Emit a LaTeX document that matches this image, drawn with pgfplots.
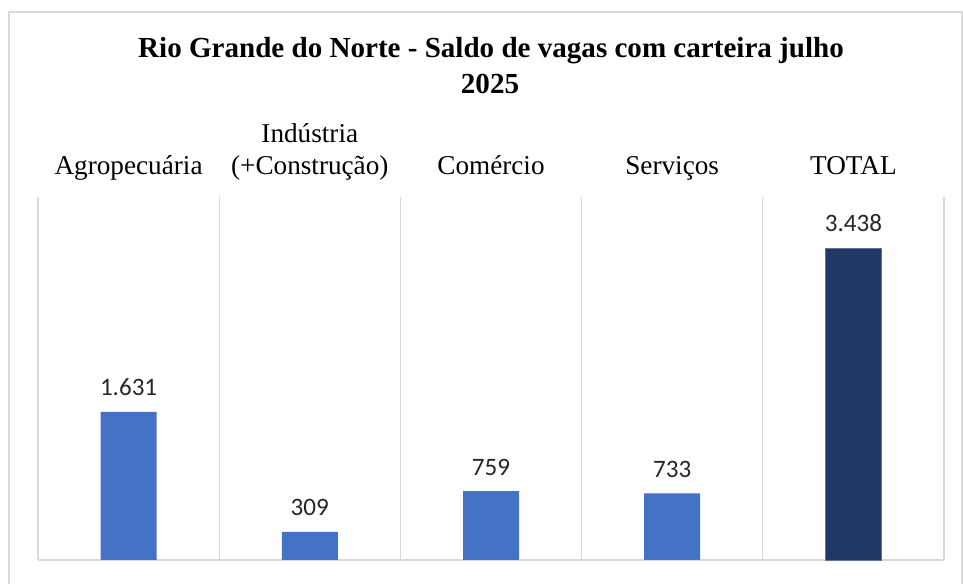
\documentclass[border=0pt]{standalone}
\usepackage{pgfplots}
\pgfplotsset{compat=1.18}
\usepackage{fontspec}
\setmainfont{Liberation Serif}
\newfontfamily\calibri{Carlito}
\definecolor{barblue}{HTML}{4472C4}
\definecolor{barnavy}{HTML}{203864}
\definecolor{gridgray}{HTML}{D9D9D9}
\begin{document}
\begin{tikzpicture}
% page frame: 963 x 584 px at 0.75pt per px
\path[use as bounding box] (0pt,0pt) rectangle (722.25pt,438pt);
\draw[gridgray, line width=0.9pt] (6.75pt,-5pt) -- (6.75pt,429pt) -- (721.5pt,429pt) -- (721.5pt,-5pt);
\node[anchor=base, font=\fontsize{21.8}{26}\selectfont\bfseries] at (368.25pt,394.5pt)
  {Rio Grande do Norte - Saldo de vagas com carteira julho};
\node[anchor=base, font=\fontsize{21.8}{26}\selectfont\bfseries] at (367.5pt,368pt) {2025};
\begin{axis}[
    at={(28.5pt,18pt)}, anchor=south west,
    scale only axis, width=679.5pt, height=272.25pt,
    ybar, bar width=42pt, bar shift=0pt,
    xmin=-0.5, xmax=4.5, ymin=0, ymax=4000,
    axis x line*=bottom, axis y line=none,
    x axis line style={gridgray, line width=0.9pt, -},
    xtick={-0.5,0.5,1.5,2.5,3.5,4.5}, xticklabels={},
    major tick length=0pt,
    xmajorgrids, grid style={gridgray, line width=0.9pt},
    ytick=\empty,
    nodes near coords,
    every node near coord/.append style={anchor=base, yshift=12pt,
      font=\calibri\fontsize{18.8}{22}\selectfont, text=black!85},
    /pgf/number format/.cd, 1000 sep={.}, assume math mode=true,
    /pgfplots/.cd,
    clip=false,
]
\addplot[fill=barblue, draw=none] coordinates {(0,1631) (1,309) (2,759) (3,733)};
\addplot[fill=barnavy, draw=barnavy!70!white] coordinates {(4,3438)};
\begin{scope}[every node/.style={anchor=base, font=\fontsize{20.4}{24}\selectfont}]
\node at (axis cs:0,4000) [yshift=16.5pt] {Agropecuária};
\node at (axis cs:1,4000) [yshift=40.5pt] {Indústria};
\node at (axis cs:1,4000) [yshift=16.5pt] {(+Construção)};
\node at (axis cs:2,4000) [yshift=16.5pt] {Comércio};
\node at (axis cs:3,4000) [yshift=16.5pt] {Serviços};
\node at (axis cs:4,4000) [yshift=16.5pt] {TOTAL};
\end{scope}
\end{axis}
\end{tikzpicture}
\end{document}
